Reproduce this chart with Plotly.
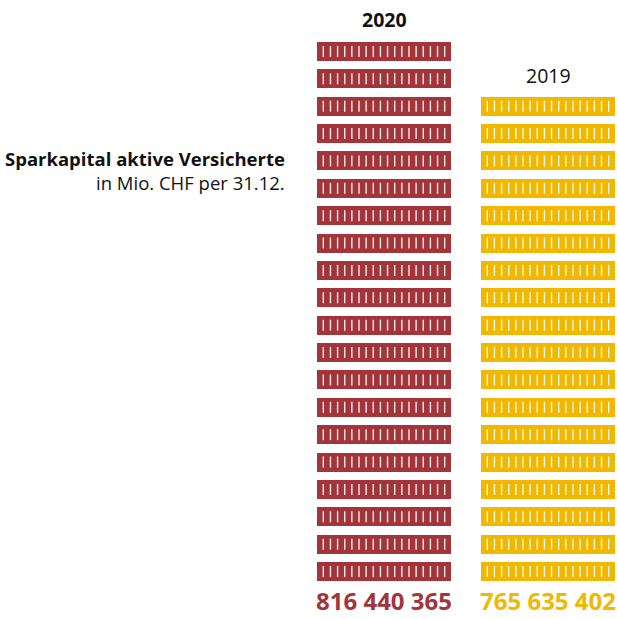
import plotly.graph_objects as go

# ---- data ----
years = ["2020", "2019"]
values = ["816 440 365", "765 635 402"]
stack_counts = [20, 18]          # number of "banknote" bars per year
ticks_per_bar = 18
colors = ["#A3343A", "#F0B800"]
title = "Sparkapital aktive Versicherte"
subtitle = "in Mio. CHF per 31.12."

# ---- layout constants (pixels) ----
W, H = 617, 619
pitch_px = 27.37
bottom_px = 581
centers_px = [384, 548]
bar_h = 19 / pitch_px
bar_w = 134 / 164
tick_off0 = -60.7 / 164
tick_step = 7.14 / 164

fig = go.Figure()
for j, (yr, n) in enumerate(zip(years, stack_counts)):
    fig.add_trace(go.Bar(
        x=[j] * n, y=[bar_h] * n, base=list(range(n)),
        width=bar_w, marker=dict(color=colors[j], line=dict(width=0)),
        showlegend=False, hoverinfo="skip"))
    xs, ys = [], []
    for i in range(n):
        for k in range(ticks_per_bar):
            x = j + tick_off0 + k * tick_step
            xs += [x, x, None]
            ys += [i + 4 / pitch_px, i + bar_h - 4 / pitch_px, None]
    fig.add_trace(go.Scatter(x=xs, y=ys, mode="lines",
                             line=dict(color="rgba(255,255,255,0.9)", width=1.4),
                             showlegend=False, hoverinfo="skip"))

x0 = -centers_px[0] / 164
x1 = (W - centers_px[0]) / 164
y0 = (bottom_px - H) / pitch_px
y1 = bottom_px / pitch_px

font = "Open Sans"
ann = []
def py(p):
    return 1 - p / H
def px(p):
    return p / W

ann.append(dict(x=px(287), y=py(158), text="<b>" + title + "</b>", xanchor="right", yanchor="middle",
                font=dict(size=18.5, color="#111111", family=font)))
ann.append(dict(x=px(287), y=py(182), text=subtitle, xanchor="right", yanchor="middle",
                font=dict(size=18.5, color="#111111", family=font)))
ann.append(dict(x=px(centers_px[0]), y=py(20), text="<b>" + years[0] + "</b>", xanchor="center", yanchor="middle",
                font=dict(size=19.5, color="#111111", family=font)))
ann.append(dict(x=px(centers_px[1]), y=py(75), text=years[1], xanchor="center", yanchor="middle",
                font=dict(size=19.5, color="#111111", family=font)))
for j in range(2):
    ann.append(dict(x=px(centers_px[j]), y=py(619), text="<b>" + values[j] + "</b>", xanchor="center", yanchor="bottom",
                    font=dict(size=24, color=colors[j], family=font)))
for a in ann:
    a.update(xref="paper", yref="paper", showarrow=False)

fig.update_layout(
    width=W, height=H, margin=dict(l=0, r=0, t=0, b=0),
    paper_bgcolor="white", plot_bgcolor="white",
    barmode="overlay", bargap=0,
    xaxis=dict(range=[x0, x1], visible=False, fixedrange=True),
    yaxis=dict(range=[y0, y1], visible=False, fixedrange=True),
    annotations=ann,
)
fig.write_html("out.html")
